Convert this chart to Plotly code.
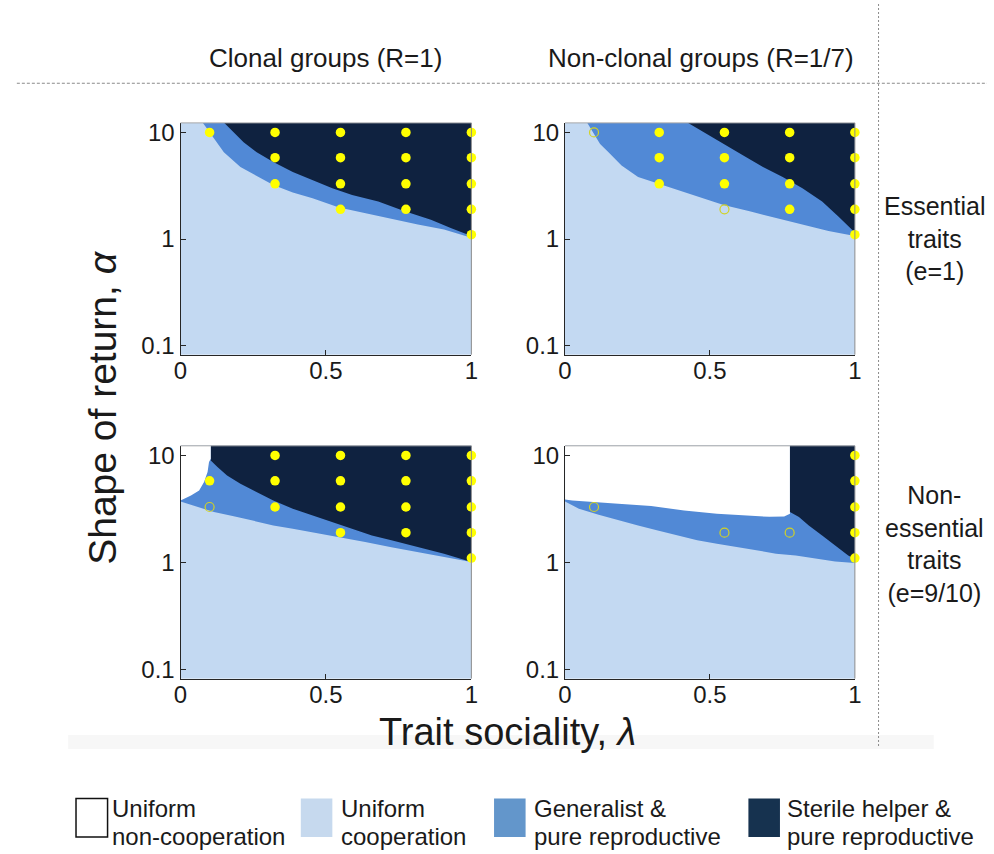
import plotly.graph_objects as go

W, H = 994, 854

LIGHT = "#c3d9f2"
MED = "#5189d6"
DARK = "#0f2240"
YEL = "#ffff00"
OPEN = "#d2d224"
TOP = 30.0  # closure value above visible range (clipped)

# ---------------- data ----------------
# Panel A: clonal (R=1), essential (e=1)
a_low_lam   = [0.076, 0.110, 0.149, 0.206, 0.262, 0.319, 0.386, 0.454, 0.545, 0.635, 0.725, 0.816, 0.906, 1.0]
a_low_alpha = [12.4, 9.3, 6.53, 4.74, 3.92, 3.21, 2.74, 2.41, 1.98, 1.75, 1.55, 1.37, 1.23, 1.03]
a_up_lam    = [0.149, 0.183, 0.217, 0.262, 0.319, 0.386, 0.454, 0.522, 0.590, 0.680, 0.771, 0.861, 0.929, 1.0]
a_up_alpha  = [12.4, 10.0, 8.08, 6.53, 5.27, 4.26, 3.57, 2.99, 2.59, 2.25, 1.82, 1.52, 1.27, 1.07]

# Panel B: non-clonal (R=1/7), essential (e=1)
b_low_lam   = [0.076, 0.099, 0.121, 0.150, 0.195, 0.252, 0.320, 0.388, 0.479, 0.547, 0.637, 0.728, 0.819, 0.909, 1.0]
b_low_alpha = [12.4, 9.64, 7.79, 6.53, 4.91, 3.83, 3.33, 2.89, 2.41, 2.09, 1.82, 1.58, 1.35, 1.19, 1.07]
b_up_lam    = [0.422, 0.479, 0.547, 0.615, 0.683, 0.751, 0.819, 0.887, 0.943, 0.977, 1.0]
b_up_alpha  = [12.4, 10.0, 7.79, 6.08, 4.74, 3.83, 2.99, 2.25, 1.63, 1.32, 1.15]

# Panel C: clonal (R=1), non-essential (e=9/10)
c_low_lam   = [0.0, 0.047, 0.115, 0.183, 0.251, 0.319, 0.386, 0.454, 0.545, 0.635, 0.725, 0.816, 0.906, 1.0]
c_low_alpha = [3.71, 3.37, 2.96, 2.71, 2.47, 2.22, 2.07, 1.92, 1.73, 1.55, 1.39, 1.25, 1.12, 1.01]
c_up_lam    = [0.104, 0.127, 0.160, 0.206, 0.262, 0.319, 0.386, 0.454, 0.522, 0.590, 0.658, 0.725, 0.816, 0.906, 1.0]
c_up_alpha  = [8.98, 7.79, 6.5, 5.44, 4.55, 3.80, 3.17, 2.75, 2.39, 2.07, 1.79, 1.61, 1.39, 1.21, 1.01]
c_white_lam   = [0.0, 0.036, 0.064, 0.081, 0.093, 0.098, 0.104]
c_white_alpha = [3.80, 4.23, 4.71, 5.64, 7.0, 8.67, 9.3]

# Panel D: non-clonal (R=1/7), non-essential (e=9/10)
d_low_lam   = [0.0, 0.048, 0.116, 0.184, 0.252, 0.320, 0.388, 0.456, 0.524, 0.592, 0.660, 0.728, 0.796, 0.864, 0.932, 1.0]
d_low_alpha = [3.71, 3.18, 2.79, 2.47, 2.22, 1.99, 1.79, 1.61, 1.50, 1.39, 1.30, 1.21, 1.16, 1.08, 1.02, 0.99]
d_white_lam   = [0.0, 0.025, 0.093, 0.184, 0.297, 0.411, 0.524, 0.637, 0.705, 0.756, 0.776]
d_white_alpha = [3.88, 3.80, 3.71, 3.54, 3.37, 3.06, 2.85, 2.71, 2.67, 2.69, 2.85]
d_up_lam    = [0.776, 0.807, 0.841, 0.887, 0.932, 0.977, 1.0]
d_up_alpha  = [2.96, 2.66, 2.22, 1.79, 1.44, 1.16, 1.07]

# Simulation points (filled = observed, open = not observed)
a_fill_lam   = [0.1, 0.325, 0.325, 0.325, 0.55, 0.55, 0.55, 0.55, 0.775, 0.775, 0.775, 0.775, 1.0, 1.0, 1.0, 1.0, 1.0]
a_fill_alpha = [10, 10, 5.8, 3.3, 10, 5.8, 3.3, 1.9, 10, 5.8, 3.3, 1.9, 10, 5.8, 3.3, 1.9, 1.1]
a_open_lam, a_open_alpha = [], []

b_fill_lam   = [0.325, 0.325, 0.325, 0.55, 0.55, 0.55, 0.775, 0.775, 0.775, 0.775, 1.0, 1.0, 1.0, 1.0, 1.0]
b_fill_alpha = [10, 5.8, 3.3, 10, 5.8, 3.3, 10, 5.8, 3.3, 1.9, 10, 5.8, 3.3, 1.9, 1.1]
b_open_lam   = [0.1, 0.55]
b_open_alpha = [10, 1.9]

c_fill_lam   = [0.1, 0.325, 0.325, 0.325, 0.55, 0.55, 0.55, 0.55, 0.775, 0.775, 0.775, 0.775, 1.0, 1.0, 1.0, 1.0, 1.0]
c_fill_alpha = [5.8, 10, 5.8, 3.3, 10, 5.8, 3.3, 1.9, 10, 5.8, 3.3, 1.9, 10, 5.8, 3.3, 1.9, 1.1]
c_open_lam   = [0.1]
c_open_alpha = [3.3]

d_fill_lam   = [1.0, 1.0, 1.0, 1.0, 1.0]
d_fill_alpha = [10, 5.8, 3.3, 1.9, 1.1]
d_open_lam   = [0.1, 0.55, 0.775]
d_open_alpha = [3.3, 1.9, 1.9]

col_titles = ["Clonal groups (R=1)", "Non-clonal groups (R=1/7)"]
row_titles = ["Essential<br>traits<br>(e=1)", "Non-<br>essential<br>traits<br>(e=9/10)"]
x_ticks = [0, 0.5, 1]
x_ticktext = ["0", "0.5", "1"]
y_ticks = [0.1, 1, 10]
y_ticktext = ["0.1", "1", "10"]
legend_labels = [("Uniform", "non-cooperation"), ("Uniform", "cooperation"),
                 ("Generalist &", "pure reproductive"), ("Sterile helper &", "pure reproductive")]
legend_colors = ["#ffffff", "#c6d9ee", "#6396cb", "#16324f"]

# ---------------- figure ----------------
fig = go.Figure()


def poly(xs, ys, color, n):
    sfx = "" if n == 1 else str(n)
    fig.add_trace(go.Scatter(x=xs, y=ys, mode="lines", fill="toself", fillcolor=color,
                             line=dict(width=0, color=color), hoverinfo="skip",
                             showlegend=False, xaxis="x" + sfx, yaxis="y" + sfx))


def dots(fl, fa, ol, oa, n):
    sfx = "" if n == 1 else str(n)
    fig.add_trace(go.Scatter(x=fl, y=fa, mode="markers", cliponaxis=False,
                             marker=dict(symbol="circle", size=9.5, color=YEL, line=dict(width=0)),
                             showlegend=False, xaxis="x" + sfx, yaxis="y" + sfx))
    if ol:
        fig.add_trace(go.Scatter(x=ol, y=oa, mode="markers", cliponaxis=False,
                                 marker=dict(symbol="circle-open", size=9, color=OPEN, line=dict(width=1.2)),
                                 showlegend=False, xaxis="x" + sfx, yaxis="y" + sfx))


# Panel A
poly(a_low_lam + [1.0, a_low_lam[0]], a_low_alpha + [TOP, TOP], MED, 1)
poly(a_up_lam + [1.0, a_up_lam[0]], a_up_alpha + [TOP, TOP], DARK, 1)
dots(a_fill_lam, a_fill_alpha, a_open_lam, a_open_alpha, 1)
# Panel B
poly(b_low_lam + [1.0, b_low_lam[0]], b_low_alpha + [TOP, TOP], MED, 2)
poly(b_up_lam + [1.0, b_up_lam[0]], b_up_alpha + [TOP, TOP], DARK, 2)
dots(b_fill_lam, b_fill_alpha, b_open_lam, b_open_alpha, 2)
# Panel C
poly(c_low_lam + [1.0, 0.0], c_low_alpha + [TOP, TOP], MED, 3)
poly([c_up_lam[0]] + c_up_lam + [1.0], [TOP] + c_up_alpha + [TOP], DARK, 3)
poly([0.0] + c_white_lam + [c_white_lam[-1]], [TOP] + c_white_alpha + [TOP], "#ffffff", 3)
dots(c_fill_lam, c_fill_alpha, c_open_lam, c_open_alpha, 3)
# Panel D
poly(d_low_lam + [1.0, 0.0], d_low_alpha + [TOP, TOP], MED, 4)
poly([0.0] + d_white_lam + [d_white_lam[-1]], [TOP] + d_white_alpha + [TOP], "#ffffff", 4)
poly([d_up_lam[0]] + d_up_lam + [1.0], [TOP] + d_up_alpha + [TOP], DARK, 4)
dots(d_fill_lam, d_fill_alpha, d_open_lam, d_open_alpha, 4)

# layout geometry (pixels)
panels = {1: (176, 471, 120, 354), 2: (566, 860, 120, 354),
          3: (176, 471, 446, 681), 4: (566, 860, 446, 681)}
FONT = "Liberation Sans, Arial, sans-serif"
AX = "#262626"
TXT = "#1a1a1a"

layout = dict(width=W, height=H, margin=dict(l=0, r=0, t=0, b=0),
              paper_bgcolor="white", plot_bgcolor=LIGHT, showlegend=False,
              font=dict(family=FONT, color=TXT))
for n, (l, r, t, b) in panels.items():
    sfx = "" if n == 1 else str(n)
    layout["xaxis" + sfx] = dict(domain=[l / W, r / W], range=[0, 1], anchor="y" + sfx,
                                 tickvals=x_ticks, ticktext=x_ticktext, ticks="inside", ticklen=5,
                                 tickcolor=AX, showline=True, linecolor=AX, linewidth=1,
                                 showgrid=False, zeroline=False, tickfont=dict(size=24, color=TXT),
                                 ticklabelstandoff=-5, fixedrange=True)
    layout["yaxis" + sfx] = dict(domain=[1 - b / H, 1 - t / H], type="log", range=[-1.085, 1.09],
                                 anchor="x" + sfx, tickvals=y_ticks, ticktext=y_ticktext,
                                 ticks="inside", ticklen=5, tickcolor=AX, showline=True,
                                 linecolor=AX, linewidth=1, showgrid=False, zeroline=False,
                                 tickfont=dict(size=24, color=TXT), fixedrange=True)
fig.update_layout(**layout)

shapes = []
for n in panels:
    sfx = "" if n == 1 else str(n)
    shapes.append(dict(type="line", xref="x" + sfx + " domain", yref="y" + sfx + " domain",
                       x0=0, x1=1, y0=1, y1=1, line=dict(color="#a8a8a8", width=1)))
    shapes.append(dict(type="line", xref="x" + sfx + " domain", yref="y" + sfx + " domain",
                       x0=1, x1=1, y0=0, y1=1, line=dict(color="#8c8c8c", width=1)))

shapes.append(dict(type="rect", xref="paper", yref="paper", x0=62 / W, x1=940 / W,
                   y0=1 - 752 / H, y1=1 - 738 / H, fillcolor="#f7f7f7", line=dict(width=0),
                   layer="below"))
shapes.append(dict(type="line", xref="paper", yref="paper", x0=10 / W, x1=1, y0=1 - 80 / H,
                   y1=1 - 80 / H, line=dict(color="#8a8a8a", width=1, dash="3px,2px")))
shapes.append(dict(type="line", xref="paper", yref="paper", x0=884 / W, x1=884 / W, y0=1,
                   y1=1 - 750 / H, line=dict(color="#8a8a8a", width=1, dash="2px,2px")))

leg_box_x = [70, 298, 494, 752]
leg_text_x = [104, 337, 533, 789]
for i in range(4):
    shapes.append(dict(type="rect", xref="paper", yref="paper", x0=leg_box_x[i] / W,
                       x1=(leg_box_x[i] + 32) / W, y0=1 - 841 / H, y1=1 - 802 / H,
                       fillcolor=legend_colors[i],
                       line=dict(color="#111111" if i == 0 else legend_colors[i], width=1.5 if i == 0 else 0)))
fig.update_layout(shapes=shapes)

ann = []
ann.append(dict(text=col_titles[0], x=323.5 / W, y=1 - 55 / H, xref="paper", yref="paper",
                showarrow=False, xanchor="center", yanchor="middle", font=dict(size=26)))
ann.append(dict(text=col_titles[1], x=704 / W, y=1 - 55 / H, xref="paper", yref="paper",
                showarrow=False, xanchor="center", yanchor="middle", font=dict(size=26)))
ann.append(dict(text=row_titles[0], x=941 / W, y=1 - 237 / H, xref="paper", yref="paper",
                showarrow=False, xanchor="center", yanchor="middle", font=dict(size=25)))
ann.append(dict(text=row_titles[1], x=941 / W, y=1 - 545 / H, xref="paper", yref="paper",
                showarrow=False, xanchor="center", yanchor="middle", font=dict(size=25)))
ann.append(dict(text="Shape of return, <i>α</i>", x=97 / W, y=1 - 407 / H, xref="paper",
                yref="paper", showarrow=False, textangle=-90, xanchor="center", yanchor="middle",
                font=dict(size=39)))
ann.append(dict(text="Trait sociality, <i>λ</i>", x=508 / W, y=1 - 735 / H, xref="paper",
                yref="paper", showarrow=False, xanchor="center", yanchor="middle",
                font=dict(size=38), borderpad=0))
for i in range(4):
    for j, yy in enumerate([812, 840]):
        ann.append(dict(text=legend_labels[i][j], x=leg_text_x[i] / W, y=1 - yy / H, xref="paper",
                        yref="paper", showarrow=False, xanchor="left", yanchor="middle",
                        font=dict(size=24)))
fig.update_layout(annotations=ann)

fig.write_html("out.html")
